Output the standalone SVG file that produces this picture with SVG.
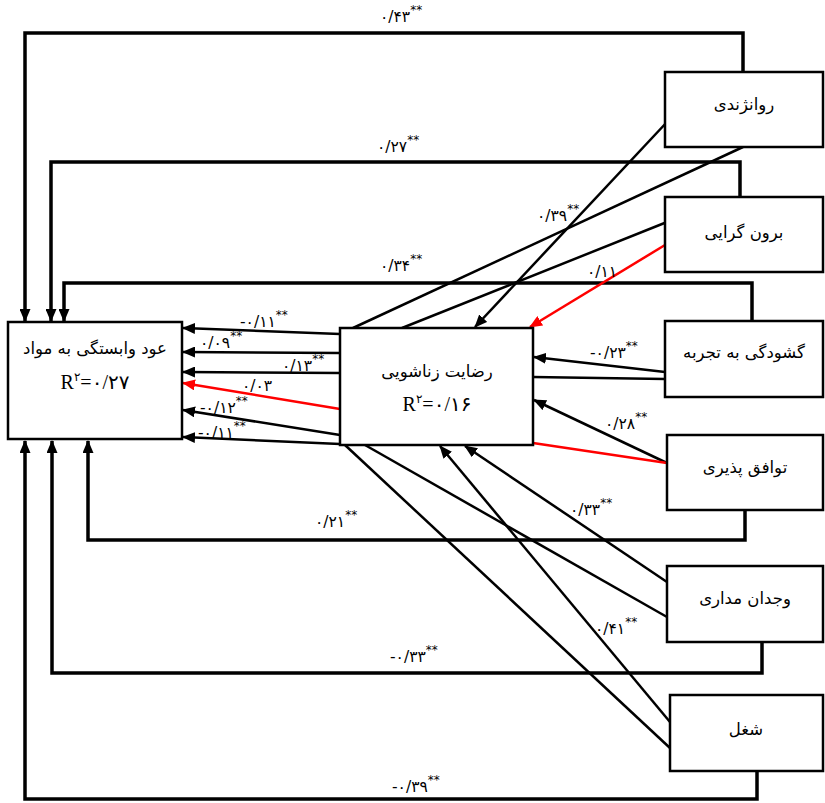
<svg xmlns="http://www.w3.org/2000/svg" width="825" height="803" viewBox="0 0 825 803">
<style>
.box{fill:#fff;stroke:#000;stroke-width:2.5}
.c{fill:none;stroke:#000;stroke-width:2.5}
.fb{fill:none;stroke:#000;stroke-width:3.5}
.r{fill:none;stroke:#f00;stroke-width:2.5}
.lbl{font-family:"DejaVu Sans",sans-serif;font-size:15.5px;fill:#000}
.sup{font-size:12px}
.fa{font-family:"DejaVu Sans",sans-serif;font-size:16.5px;fill:#000}
.rr{font-family:"Liberation Serif","DejaVu Sans",serif;font-size:20px;fill:#000}
</style>
<defs>
<marker id="ab" markerUnits="userSpaceOnUse" markerWidth="13" markerHeight="11" refX="12" refY="5.5" orient="auto"><path d="M0,0 L13,5.5 L0,11 z" fill="#000"/></marker>
<marker id="ar" markerUnits="userSpaceOnUse" markerWidth="13" markerHeight="11" refX="12" refY="5.5" orient="auto"><path d="M0,0 L13,5.5 L0,11 z" fill="#f00"/></marker>
</defs>
<rect width="825" height="803" fill="#fff"/>
<g id="connectors">
<path class="fb" d="M743,72 V33 H25 V321" marker-end="url(#ab)"/>
<path class="fb" d="M740,197 V162 H51 V321" marker-end="url(#ab)"/>
<path class="fb" d="M752,321 V283 H64 V321" marker-end="url(#ab)"/>
<path class="fb" d="M745,510 V540 H88 V441" marker-end="url(#ab)"/>
<path class="fb" d="M762,642 V673 H52 V441" marker-end="url(#ab)"/>
<path class="fb" d="M757,771 V799 H25 V441" marker-end="url(#ab)"/>
<line class="c" x1="340" y1="334" x2="183" y2="328" marker-end="url(#ab)"/>
<line class="c" x1="340" y1="353" x2="183" y2="352" marker-end="url(#ab)"/>
<line class="c" x1="340" y1="373" x2="183" y2="372" marker-end="url(#ab)"/>
<line class="r" x1="340" y1="409" x2="183" y2="383" marker-end="url(#ar)"/>
<line class="c" x1="340" y1="435" x2="183" y2="410" marker-end="url(#ab)"/>
<line class="c" x1="340" y1="444" x2="183" y2="437" marker-end="url(#ab)"/>
<line class="c" x1="667" y1="122" x2="475" y2="327" marker-end="url(#ab)"/>
<line class="c" x1="743" y1="147" x2="353" y2="328"/>
<line class="c" x1="667" y1="222" x2="402" y2="328"/>
<line class="r" x1="665" y1="245" x2="530" y2="327" marker-end="url(#ar)"/>
<line class="c" x1="665" y1="372" x2="534" y2="357" marker-end="url(#ab)"/>
<line class="c" x1="665" y1="379" x2="533" y2="377"/>
<line class="c" x1="667" y1="463" x2="534" y2="400" marker-end="url(#ab)"/>
<line class="r" x1="667" y1="463" x2="533" y2="443"/>
<line class="c" x1="667" y1="582" x2="465" y2="446" marker-end="url(#ab)"/>
<line class="c" x1="667" y1="617" x2="365" y2="445"/>
<line class="c" x1="670" y1="722" x2="440" y2="446" marker-end="url(#ab)"/>
<line class="c" x1="670" y1="748" x2="345" y2="445"/>
</g>
<g id="labels">
<text class="lbl" x="380" y="22">۰/۴۳<tspan class="sup" dy="-8">**</tspan></text>
<text class="lbl" x="377" y="152">۰/۲۷<tspan class="sup" dy="-8">**</tspan></text>
<text class="lbl" x="537" y="221">۰/۳۹<tspan class="sup" dy="-8">**</tspan></text>
<text class="lbl" x="380" y="271">۰/۳۴<tspan class="sup" dy="-8">**</tspan></text>
<text class="lbl" x="587" y="277">۰/۱۱</text>
<text class="lbl" x="240" y="327">-۰/۱۱<tspan class="sup" dy="-8">**</tspan></text>
<text class="lbl" x="200" y="348">۰/۰۹<tspan class="sup" dy="-8">**</tspan></text>
<text class="lbl" x="282" y="371">۰/۱۳<tspan class="sup" dy="-8">**</tspan></text>
<text class="lbl" x="242" y="391">۰/۰۳</text>
<text class="lbl" x="200" y="413">-۰/۱۲<tspan class="sup" dy="-8">**</tspan></text>
<text class="lbl" x="198" y="438">-۰/۱۱<tspan class="sup" dy="-8">**</tspan></text>
<text class="lbl" x="590" y="358">-۰/۲۳<tspan class="sup" dy="-8">**</tspan></text>
<text class="lbl" x="605" y="429">۰/۲۸<tspan class="sup" dy="-8">**</tspan></text>
<text class="lbl" x="315" y="527">۰/۲۱<tspan class="sup" dy="-8">**</tspan></text>
<text class="lbl" x="570" y="515">۰/۳۳<tspan class="sup" dy="-8">**</tspan></text>
<text class="lbl" x="595" y="634">۰/۴۱<tspan class="sup" dy="-8">**</tspan></text>
<text class="lbl" x="390" y="662">-۰/۳۳<tspan class="sup" dy="-8">**</tspan></text>
<text class="lbl" x="392" y="792">-۰/۳۹<tspan class="sup" dy="-8">**</tspan></text>
</g>
<g id="node-addiction">
<rect class="box" x="8" y="322" width="174" height="117"/>
<text class="fa" x="95" y="354" text-anchor="middle">عود وابستگی به مواد</text>
<text class="rr" x="95" y="389" text-anchor="middle">R<tspan font-size="12" dy="-8">۲</tspan><tspan dy="8">=۰/۲۷</tspan></text>
</g>
<g id="node-marital">
<rect class="box" x="340" y="328" width="193" height="117"/>
<text class="fa" x="437" y="377" text-anchor="middle">رضایت زناشویی</text>
<text class="rr" x="437" y="411" text-anchor="middle">R<tspan font-size="12" dy="-8">۲</tspan><tspan dy="8">=۰/۱۶</tspan></text>
</g>
<g id="node-neuroticism">
<rect class="box" x="665" y="72" width="158" height="75"/>
<text class="fa" x="744" y="110" text-anchor="middle">روانژندی</text>
</g>
<g id="node-extraversion">
<rect class="box" x="665" y="197" width="158" height="75"/>
<text class="fa" x="744" y="238" text-anchor="middle">برون گرایی</text>
</g>
<g id="node-openness">
<rect class="box" x="665" y="321" width="158" height="76"/>
<text class="fa" x="744" y="358" text-anchor="middle">گشودگی به تجربه</text>
</g>
<g id="node-agreeableness">
<rect class="box" x="667" y="435" width="156" height="75"/>
<text class="fa" x="745" y="473" text-anchor="middle">توافق پذیری</text>
</g>
<g id="node-conscientiousness">
<rect class="box" x="667" y="566" width="156" height="76"/>
<text class="fa" x="745" y="604" text-anchor="middle">وجدان مداری</text>
</g>
<g id="node-job">
<rect class="box" x="670" y="695" width="153" height="76"/>
<text class="fa" x="746" y="735" text-anchor="middle">شغل</text>
</g>
</svg>
